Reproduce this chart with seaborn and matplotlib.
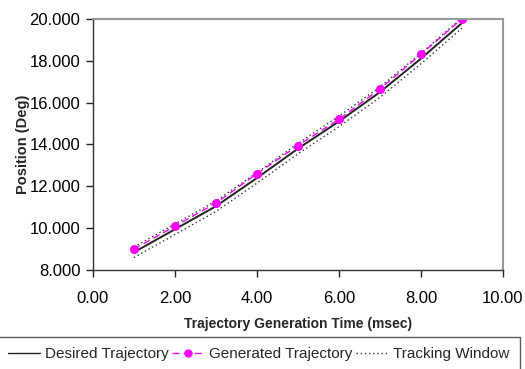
import pandas as pd
import matplotlib
matplotlib.use("Agg")
import matplotlib.pyplot as plt
import seaborn as sns
from matplotlib.lines import Line2D
from matplotlib.ticker import FormatStrFormatter

time_ms = [1, 2, 3, 4, 5, 6, 7, 8, 9]
desired = [8.85, 9.95, 11.05, 12.40, 13.80, 15.10, 16.50, 18.10, 19.80]
generated = [9.00, 10.10, 11.20, 12.60, 13.95, 15.20, 16.65, 18.30, 20.00]
window_upper = [9.10, 10.20, 11.30, 12.65, 14.05, 15.35, 16.75, 18.35, 20.05]
window_lower = [8.60, 9.70, 10.80, 12.15, 13.55, 14.85, 16.25, 17.85, 19.55]

df = pd.DataFrame({"t": time_ms, "desired": desired, "generated": generated,
                   "upper": window_upper, "lower": window_lower})

sns.set_style("white")
plt.rcParams['font.family'] = ['Liberation Sans', 'DejaVu Sans']

fig = plt.figure(figsize=(5.25, 3.69), dpi=100)
ax = fig.add_axes([0.177, 0.268, 0.781, 0.681])

dot = (0, (1, 2))
sns.lineplot(data=df, x="t", y="upper", ax=ax, color="#333333", lw=1, linestyle=dot)
sns.lineplot(data=df, x="t", y="lower", ax=ax, color="#333333", lw=1, linestyle=dot)
sns.lineplot(data=df, x="t", y="desired", ax=ax, color="#222222", lw=1.4)
sns.lineplot(data=df, x="t", y="generated", ax=ax, color="#ff00ff", lw=1,
             linestyle=(0, (5, 3)), marker="o", markersize=6.5, markeredgewidth=0)

ax.set_xlim(0, 10)
ax.set_ylim(8, 20)
ax.set_xticks([0, 2, 4, 6, 8, 10])
ax.set_yticks([8, 10, 12, 14, 16, 18, 20])
ax.xaxis.set_major_formatter(FormatStrFormatter("%.2f"))
ax.yaxis.set_major_formatter(FormatStrFormatter("%.3f"))
ax.tick_params(axis="both", direction="out", length=5, width=1, colors="#222222",
               labelsize=12, labelcolor="black", pad=4)
ax.tick_params(axis="x", pad=10)
ax.tick_params(bottom=True, left=True)

for s in ["left", "bottom"]:
    ax.spines[s].set_color("#333333")
    ax.spines[s].set_linewidth(1)
for s in ["top", "right"]:
    ax.spines[s].set_color("#999999")
    ax.spines[s].set_linewidth(1.5)

ax.set_xlabel("Trajectory Generation Time (msec)", fontsize=10, fontweight="bold", labelpad=8)
ax.set_ylabel("Position (Deg)", fontsize=10.5, fontweight="bold", labelpad=0)

handles = [
    Line2D([], [], color="#222222", lw=1),
    Line2D([], [], color="#ff00ff", lw=1, linestyle=(0, (5, 3)), marker="o",
           markersize=6, markeredgewidth=0),
    Line2D([], [], color="#333333", lw=1, linestyle=dot),
]
labels = ["Desired Trajectory", "Generated Trajectory", "Tracking Window"]
leg = fig.legend(handles, labels, loc="lower left", ncol=3,
                 bbox_to_anchor=(-0.004, -0.006), borderaxespad=0,
                 fontsize=11, frameon=True, fancybox=False, handlelength=2.1,
                 handletextpad=0.35, columnspacing=0.2, borderpad=0.65)
leg.get_frame().set_edgecolor("#333333")
leg.get_frame().set_linewidth(1)

fig.savefig("out.png", dpi=100)
